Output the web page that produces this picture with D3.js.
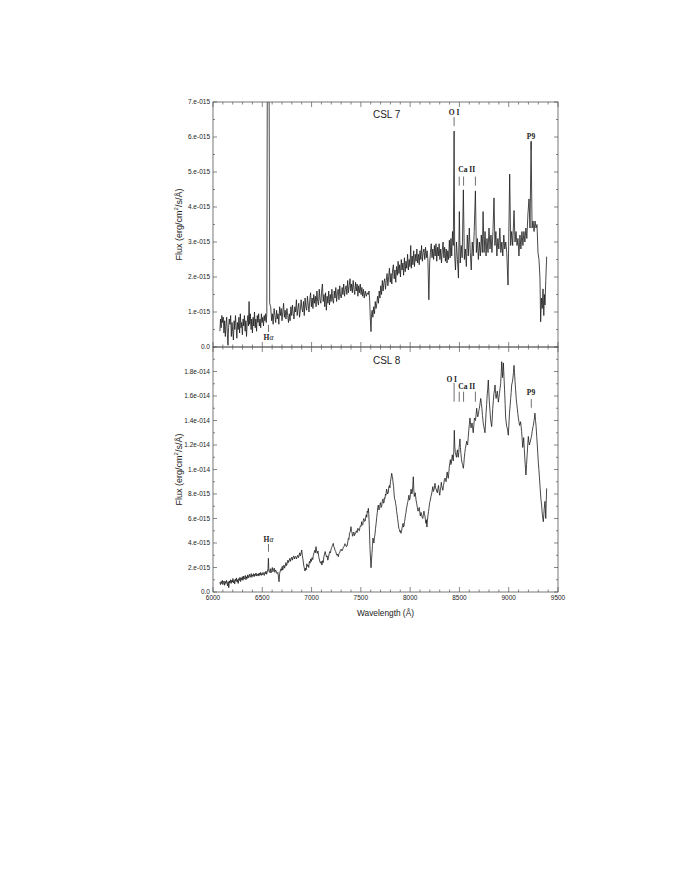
<!DOCTYPE html>
<html>
<head>
<meta charset="utf-8">
<script src="https://cdn.jsdelivr.net/npm/d3@7"></script>
<style>
body { margin: 0; background: #fff; }
text { font-family: "Liberation Sans", Arial, sans-serif; fill: #222; }
.lbl { font-family: "Liberation Serif", serif; font-weight: bold; fill: #222; }
</style>
</head>
<body>
<svg id="chart" width="681" height="881"></svg>
<script>
// spectra: [wavelength (A), flux in units of 1e-15 erg/cm2/s/A]
const csl7 = [
[6070,0.45],[6076,0.8],[6083,0.55],[6090,0.9],[6097,0.7],[6104,0.85],[6111,0.4],[6118,0.75],[6125,0.3],[6132,0.65],
[6139,0.85],[6146,0.35],[6152,0.05],[6158,0.55],[6165,0.8],[6172,0.65],[6179,0.9],[6186,0.3],[6193,0.7],[6200,0.45],
[6207,0.2],[6214,0.75],[6221,0.5],[6228,0.9],[6235,0.6],[6242,0.25],[6249,0.7],[6256,0.5],[6263,0.85],[6270,0.4],
[6277,0.95],[6284,0.55],[6291,0.7],[6298,0.35],[6305,0.8],[6312,0.6],[6319,0.9],[6326,0.45],[6333,0.75],[6340,0.3],
[6347,0.7],[6354,0.9],[6360,0.6],[6366,1.3],[6372,0.65],[6379,0.95],[6386,0.5],[6393,0.8],[6400,0.4],[6407,0.85],
[6414,0.6],[6421,1.0],[6428,0.55],[6435,0.8],[6442,0.45],[6449,0.9],[6456,0.7],[6463,0.95],[6470,0.6],[6477,0.8],
[6484,0.55],[6491,0.95],[6498,0.7],[6505,0.85],[6512,0.6],[6519,0.9],[6526,0.75],[6533,0.95],[6540,0.7],[6546,0.95],
[6552,9.5],[6567,9.5],[6575,1.25],
[6585,1.15],[6595,0.75],[6602,0.95],[6610,0.65],[6620,1.1],[6628,0.9],[6636,0.7],[6645,1.05],[6652,0.8],[6660,0.95],
[6668,0.65],[6676,1.15],[6684,0.9],[6692,1.1],[6700,0.75],[6708,1.0],[6716,1.25],[6724,0.85],[6732,1.05],[6740,0.8],
[6750,1.1],[6758,0.9],[6766,0.7],[6774,0.95],[6782,0.75],[6790,1.15],[6798,0.9],[6806,1.2],[6814,0.95],[6822,0.8],
[6830,1.15],[6838,1.0],[6846,1.35],[6854,0.9],[6862,1.1],[6870,1.25],[6878,0.85],[6886,1.05],[6894,1.35],[6902,1.1],
[6910,1.0],[6918,1.3],[6926,0.9],[6934,1.4],[6942,1.15],[6950,1.05],[6958,1.45],[6966,1.2],[6974,1.0],[6982,1.35],
[6990,1.55],[6998,1.15],[7006,1.4],[7014,1.1],[7022,1.5],[7030,1.25],[7038,1.45],[7046,1.15],[7054,1.6],[7062,1.3],
[7070,1.2],[7078,1.65],[7086,1.35],[7094,1.25],[7102,1.6],[7110,1.8],[7118,1.3],[7126,1.5],[7134,1.15],[7142,1.55],
[7150,1.05],[7158,1.45],[7166,1.25],[7174,1.6],[7182,1.2],[7190,1.5],[7198,1.3],[7206,1.65],[7214,1.35],[7222,1.25],
[7230,1.6],[7238,1.4],[7246,1.7],[7254,1.3],[7262,1.55],[7270,1.65],[7278,1.35],[7286,1.75],[7294,1.45],[7302,1.4],
[7310,1.7],[7318,1.5],[7326,1.8],[7334,1.45],[7342,1.65],[7350,1.75],[7358,1.5],[7366,1.9],[7374,1.55],[7382,1.75],
[7390,1.95],[7398,1.6],[7406,1.8],[7414,1.55],[7422,1.9],[7430,1.65],[7438,1.5],[7446,1.85],[7454,1.6],[7462,1.8],
[7470,1.45],[7478,1.75],[7486,1.55],[7494,1.8],[7502,1.5],[7510,1.7],[7518,1.45],[7526,1.65],[7534,1.4],[7545,1.6],
[7555,1.45],[7565,1.55],[7575,1.5],[7583,1.6],[7590,1.3],[7596,0.8],[7603,0.44],[7609,0.95],[7615,1.05],[7622,0.85],
[7630,1.15],[7638,0.95],[7646,1.3],[7654,1.1],[7662,1.25],[7670,1.45],[7678,1.25],[7686,1.6],[7694,1.4],[7702,1.75],
[7710,1.5],[7718,1.9],[7726,1.6],[7734,1.85],[7742,1.95],[7750,1.65],[7758,1.9],[7766,2.1],[7774,1.75],[7782,2.0],
[7790,2.25],[7798,1.85],[7806,2.1],[7814,1.8],[7822,2.2],[7830,2.35],[7838,1.95],[7846,2.2],[7854,1.85],[7862,2.3],
[7870,2.05],[7878,2.45],[7886,2.1],[7894,2.35],[7902,2.0],[7910,2.5],[7918,2.2],[7926,2.4],[7934,2.05],[7942,2.55],
[7950,2.15],[7958,2.45],[7966,2.25],[7974,2.65],[7982,2.2],[7990,2.5],[7998,2.3],[8006,2.9],[8012,2.25],[8020,2.6],
[8028,2.35],[8036,2.75],[8044,2.3],[8052,2.65],[8060,2.45],[8068,2.8],[8076,2.4],[8084,2.65],[8092,2.35],[8100,2.75],
[8108,2.5],[8116,2.9],[8124,2.45],[8132,2.7],[8140,2.8],[8148,2.5],[8156,2.85],[8164,2.55],[8172,2.75],[8180,2.5],
[8190,1.35],[8198,2.4],[8206,2.7],[8214,2.95],[8222,2.55],[8230,2.8],[8238,2.5],[8246,2.9],[8254,2.6],[8262,2.95],
[8270,2.45],[8278,2.85],[8286,2.6],[8294,2.95],[8302,2.5],[8310,2.8],[8318,2.4],[8326,2.75],[8334,3.0],[8342,2.55],
[8350,2.85],[8358,2.45],[8366,2.8],[8374,2.4],[8382,2.75],[8390,2.5],[8398,3.05],[8406,2.55],[8414,3.1],[8422,2.6],
[8430,3.3],[8438,2.9],[8446,6.17],[8452,2.6],[8460,2.2],
[8470,3.0],[8480,2.5],[8490,1.97],[8499,3.87],[8508,2.4],[8518,2.9],[8528,2.55],[8540,4.49],[8550,2.5],[8560,2.8],
[8570,2.3],[8580,3.2],[8590,2.6],[8600,3.4],[8610,2.7],[8620,2.2],[8630,3.0],[8640,2.6],[8650,3.3],[8662,4.46],
[8672,2.7],[8682,3.1],[8692,2.5],[8702,3.0],[8712,2.6],[8722,3.2],[8732,2.7],[8740,3.87],[8750,2.7],[8760,3.3],
[8770,2.6],[8780,3.1],[8790,2.7],[8800,3.4],[8810,2.8],[8820,3.2],[8830,2.7],[8840,3.3],[8851,4.26],[8860,2.9],
[8870,3.3],[8880,2.6],[8890,3.1],[8900,2.8],[8910,3.4],[8920,2.7],[8930,3.0],[8940,2.6],[8950,3.2],[8960,2.8],
[8970,3.0],[8980,2.7],[8993,1.77],[9000,3.0],[9010,4.94],[9020,2.9],[9030,3.3],[9040,2.9],[9054,3.9],[9064,3.0],
[9074,3.3],[9084,2.9],[9094,3.1],[9104,2.6],[9114,3.2],[9124,2.8],[9134,3.3],[9144,2.9],[9154,3.3],[9164,3.0],
[9174,3.4],[9184,3.1],[9195,3.8],[9206,4.23],[9216,3.4],[9227,5.87],[9237,3.4],[9247,3.6],[9257,3.3],[9267,3.6],
[9277,3.4],[9287,3.5],[9297,2.7],[9307,2.5],[9317,1.97],[9324,0.72],[9332,1.4],[9340,1.1],[9348,1.66],[9356,0.9],
[9362,1.5],[9368,1.2],[9376,1.9],[9385,2.58]
];

const csl8 = [
[6070,0.8],[6076,0.6],[6082,0.85],[6088,0.7],[6094,0.95],[6100,0.6],[6106,0.8],[6112,0.9],[6118,0.55],[6124,0.85],
[6130,0.7],[6136,0.95],[6142,0.75],[6148,0.5],[6154,0.85],[6160,0.35],[6166,0.9],[6172,0.75],[6178,1.0],[6184,0.7],
[6190,0.95],[6196,0.8],[6202,1.1],[6208,0.75],[6214,0.95],[6220,0.65],[6226,1.05],[6232,0.9],[6238,1.15],[6244,0.8],
[6250,1.0],[6256,0.7],[6262,1.1],[6268,0.95],[6274,1.2],[6280,0.85],[6286,1.15],[6292,1.0],[6298,1.25],[6304,0.95],
[6310,1.3],[6316,1.05],[6322,1.2],[6328,1.35],[6334,1.0],[6340,1.25],[6346,1.1],[6352,1.4],[6358,1.15],[6364,1.3],
[6370,1.45],[6376,1.2],[6382,1.35],[6388,1.5],[6394,1.2],[6400,1.4],[6406,1.3],[6412,1.5],[6418,1.25],[6424,1.45],
[6430,1.35],[6436,1.55],[6442,1.3],[6448,1.45],[6454,1.35],[6460,1.5],[6466,1.3],[6472,1.55],[6478,1.4],[6484,1.6],
[6490,1.35],[6496,1.5],[6502,1.4],[6508,1.6],[6514,1.45],[6520,1.35],[6526,1.6],[6532,1.5],[6538,1.7],[6544,1.45],
[6552,1.7],[6558,1.9],[6562,2.75],[6567,1.7],
[6574,1.6],[6582,1.9],[6588,1.55],[6594,1.75],[6602,2.0],[6608,1.65],[6614,1.85],[6622,1.95],[6628,1.6],[6634,1.8],
[6642,1.7],[6650,1.5],[6658,1.6],[6663,1.3],[6670,0.84],[6676,1.5],[6682,1.7],[6690,1.9],[6696,1.75],[6702,2.1],
[6708,1.8],[6714,2.0],[6720,2.2],[6726,1.95],[6732,2.1],[6740,2.4],[6746,2.15],[6752,2.3],[6760,2.6],[6766,2.4],
[6772,2.55],[6780,2.75],[6786,2.5],[6792,2.7],[6800,2.85],[6806,2.6],[6812,2.8],[6820,2.95],[6826,2.7],[6832,2.85],
[6840,2.9],[6846,2.7],[6852,2.85],[6860,3.0],[6866,2.8],[6872,2.95],[6880,3.2],[6886,2.95],[6892,3.1],[6900,3.43],
[6906,3.0],[6912,2.7],[6922,2.1],[6933,1.71],[6940,1.95],[6945,1.8],[6952,2.3],[6958,2.1],[6965,2.2],[6971,2.0],
[6978,2.5],[6985,2.35],[6992,2.7],[6998,2.5],[7005,2.8],[7012,2.65],[7018,3.0],[7025,3.2],[7032,3.4],[7038,3.2],
[7045,3.7],[7052,3.3],[7058,3.15],[7065,3.35],[7072,2.9],[7078,2.7],[7085,2.45],[7092,2.35],[7098,2.5],[7105,2.2],
[7112,2.55],[7118,2.4],[7125,2.9],[7132,3.1],[7138,3.3],[7145,3.05],[7152,2.85],[7158,2.95],[7165,2.6],[7172,2.85],
[7178,3.1],[7185,3.3],[7192,3.2],[7198,3.5],[7205,3.65],[7212,3.8],[7220,3.97],[7226,3.7],[7232,3.6],[7238,3.4],
[7245,3.3],[7252,3.1],[7258,3.0],[7265,3.1],[7271,2.88],[7278,3.15],[7285,3.2],[7292,3.4],[7300,3.5],[7308,3.35],
[7315,3.45],[7322,3.65],[7330,3.7],[7338,3.95],[7345,3.9],[7352,3.7],[7360,3.75],[7366,4.0],[7373,4.38],[7379,4.3],
[7385,4.8],[7392,4.9],[7400,5.33],[7405,4.95],[7410,4.9],[7415,4.55],[7420,4.6],[7425,4.85],[7430,4.9],[7435,4.6],
[7440,4.7],[7448,4.85],[7455,5.0],[7462,4.85],[7470,5.2],[7477,5.05],[7485,5.0],[7490,5.25],[7495,5.4],[7502,5.35],
[7508,5.74],[7514,5.45],[7520,5.5],[7525,5.85],[7530,6.0],[7538,5.75],[7545,5.8],[7550,6.15],[7555,6.3],[7560,6.1],
[7565,6.6],[7570,6.5],[7576,6.83],[7580,6.4],[7585,5.5],[7593,3.5],[7603,1.98],[7608,2.6],[7613,3.2],[7618,3.8],
[7623,4.4],[7628,4.1],[7633,4.0],[7638,4.5],[7643,4.67],[7649,5.2],[7655,5.6],[7661,6.1],[7667,6.5],[7672,6.9],
[7677,7.1],[7683,6.7],[7690,6.8],[7695,7.2],[7700,7.3],[7706,6.9],[7712,7.0],[7718,7.45],[7725,7.6],[7730,7.25],
[7735,7.3],[7740,7.7],[7745,7.65],[7750,8.0],[7755,7.9],[7760,8.4],[7765,8.3],[7771,8.0],[7778,8.1],[7784,8.6],
[7790,8.7],[7795,8.5],[7800,9.0],[7806,9.3],[7813,9.69],[7818,9.45],[7822,9.3],[7827,8.9],[7832,8.6],[7837,8.0],
[7842,7.6],[7848,7.5],[7853,7.2],[7858,7.0],[7863,6.56],[7868,6.3],[7873,6.0],[7879,5.6],[7885,5.2],[7891,5.1],
[7897,4.9],[7902,5.0],[7907,4.79],[7912,4.95],[7918,5.2],[7923,5.45],[7928,5.6],[7933,5.3],[7938,5.4],[7943,5.75],
[7948,6.0],[7953,6.3],[7958,6.5],[7963,6.85],[7968,7.0],[7973,7.3],[7978,7.4],[7983,7.7],[7988,7.9],[7993,7.5],
[7998,7.6],[8004,8.1],[8010,8.4],[8016,8.0],[8022,8.1],[8027,8.7],[8032,9.41],[8037,8.4],[8042,7.8],[8047,7.95],
[8052,8.1],[8060,7.5],[8067,7.2],[8073,6.9],[8080,6.6],[8086,6.75],[8092,6.9],[8098,6.5],[8104,6.2],[8110,6.5],
[8117,6.29],[8122,6.1],[8128,6.0],[8134,6.3],[8140,6.6],[8145,6.4],[8150,6.2],[8155,5.9],[8160,5.6],[8165,5.9],
[8170,5.3],[8175,5.8],[8180,6.2],[8186,6.55],[8192,6.9],[8198,7.3],[8205,7.5],[8211,7.8],[8218,8.0],[8224,8.3],
[8230,8.6],[8235,8.2],[8240,8.3],[8246,8.5],[8252,8.87],[8258,8.5],[8264,8.4],[8270,8.2],[8276,8.1],[8282,8.45],
[8288,8.7],[8294,8.2],[8300,7.9],[8306,8.3],[8312,8.6],[8316,8.95],[8320,8.7],[8326,8.5],[8332,8.3],[8338,8.7],
[8343,8.9],[8348,9.2],[8354,9.3],[8360,9.1],[8365,9.0],[8370,9.5],[8376,9.8],[8381,9.45],[8387,9.28],[8392,9.7],
[8397,10.2],[8402,10.5],[8408,10.8],[8413,10.4],[8418,10.5],[8423,10.9],[8428,11.2],[8433,10.8],[8438,10.7],[8443,11.5],
[8448,13.2],[8453,11.9],[8458,11.4],[8464,11.2],[8470,11.0],[8475,11.4],[8480,11.6],[8484,11.2],[8488,11.0],[8493,11.4],
[8497,11.8],[8501,12.1],[8505,12.5],[8510,11.8],[8515,11.3],[8520,10.9],[8525,10.6],[8532,10.4],[8540,10.1],[8545,10.5],
[8550,11.0],[8555,11.4],[8560,11.7],[8567,12.0],[8573,12.3],[8578,12.1],[8583,12.0],[8589,12.6],[8595,13.2],[8601,13.7],
[8607,14.2],[8612,13.8],[8618,13.4],[8623,13.6],[8628,13.8],[8634,13.4],[8640,13.0],[8646,13.6],[8652,14.2],[8658,14.1],
[8663,14.0],[8669,14.5],[8675,15.0],[8680,14.6],[8686,14.3],[8692,14.5],[8697,14.8],[8702,15.0],[8706,15.2],[8711,15.5],
[8716,15.8],[8722,15.4],[8728,15.0],[8734,14.4],[8740,13.9],[8745,13.6],[8750,13.4],[8755,13.2],[8759,13.0],[8765,13.8],
[8770,14.6],[8776,15.3],[8781,16.0],[8787,16.6],[8793,17.3],[8798,16.4],[8803,15.6],[8809,14.9],[8815,14.2],[8821,13.8],
[8827,13.5],[8833,14.2],[8838,15.0],[8844,15.6],[8850,16.2],[8856,16.5],[8861,16.9],[8867,16.2],[8872,15.8],[8878,16.1],
[8884,16.4],[8890,15.9],[8895,15.5],[8901,15.9],[8906,16.2],[8912,16.6],[8918,17.0],[8924,17.9],[8929,18.8],[8934,18.0],
[8938,17.5],[8942,18.1],[8946,18.7],[8952,17.6],[8958,16.5],[8964,15.3],[8969,14.2],[8975,13.8],[8980,13.5],[8984,13.4],
[8988,13.3],[8992,13.0],[8996,12.8],[9002,13.7],[9008,14.6],[9014,15.2],[9020,15.8],[9025,16.3],[9030,16.9],[9036,17.1],
[9042,17.4],[9048,17.9],[9054,18.5],[9059,17.9],[9064,17.2],[9070,16.5],[9076,15.8],[9081,15.4],[9087,15.0],[9092,14.6],
[9098,14.2],[9104,13.9],[9110,13.6],[9115,13.7],[9120,13.9],[9126,13.5],[9131,13.1],[9137,12.4],[9142,11.8],[9147,12.2],
[9152,12.6],[9158,11.7],[9164,10.8],[9170,10.1],[9175,9.55],[9181,10.4],[9187,11.2],[9193,12.0],[9199,12.7],[9204,12.3],
[9210,12.0],[9216,12.2],[9222,12.4],[9228,12.6],[9233,12.8],[9238,13.1],[9244,13.4],[9250,13.6],[9255,13.9],[9261,14.2],
[9266,14.6],[9272,14.0],[9278,13.5],[9284,12.7],[9290,12.0],[9295,11.3],[9300,10.6],[9306,10.0],[9312,9.3],[9318,8.6],
[9323,8.0],[9328,7.5],[9334,7.1],[9338,6.6],[9342,6.3],[9346,6.0],[9351,5.74],[9356,6.3],[9360,6.8],[9364,7.1],
[9368,7.4],[9372,6.7],[9376,6.0],[9380,7.2],[9385,8.46]
];

const UNIT = 1e-15;

const xTicks = [6000, 6500, 7000, 7500, 8000, 8500, 9000, 9500];
const xTickLabels = ["6000", "6500", "7000", "7500", "8000", "8500", "9000", "9500"];

const topYTicks = [0, 1, 2, 3, 4, 5, 6, 7];
const topYLabels = ["0.0", "1.e-015", "2.e-015", "3.e-015", "4.e-015", "5.e-015", "6.e-015", "7.e-015"];
const botYTicks = [0, 2, 4, 6, 8, 10, 12, 14, 16, 18];
const botYLabels = ["0.0", "2.e-015", "4.e-015", "6.e-015", "8.e-015", "1.e-014", "1.2e-014", "1.4e-014", "1.6e-014", "1.8e-014"];

// line identifications (wavelengths in A)
const HALPHA = 6563;
const OI = 8446;
const CAII = [8498, 8542, 8662];
const P9 = 9229;

const svg = d3.select("#chart");
const left = 213, right = 558;

const x = d3.scaleLinear().domain([6000, 9500]).range([left, right]);

//panels
const panels = [
  {name: "CSL 7", data: csl7, ymax: 7, minorStep: 0.5, top: 102, bottom: 347,
   ticks: topYTicks, labels: topYLabels, showX: false,
   ha: {tick: [0.63, 0.43], text: 0.21},
   oi: {tick: [6.57, 6.31], text: 6.64, tx: OI},
   ca: {tick: [4.87, 4.61], text: 5.01},
   p9: {tick: [5.89, 5.63], text: 5.94},
   title: 6.54},
  {name: "CSL 8", data: csl8, ymax: 20, minorStep: 1, top: 347, bottom: 592,
   ticks: botYTicks, labels: botYLabels, showX: true,
   ha: {tick: [3.92, 3.29], text: 4.1},
   oi: {tick: [17.06, 15.53], text: 17.16, tx: 8422},
   ca: {tick: [16.35, 15.53], text: 16.56},
   p9: {tick: [15.76, 15.04], text: 16.07},
   title: 18.64}
];

const xMinor = d3.range(6000, 9501, 100);

panels.forEach((p, i) => {
  const y = d3.scaleLinear().domain([0, p.ymax * UNIT]).range([p.bottom, p.top]);
  const g = svg.append("g");

  g.append("clipPath").attr("id", "clip" + i)
    .append("rect").attr("x", left).attr("y", p.top).attr("width", right - left).attr("height", p.bottom - p.top);

  // spectrum
  const line = d3.line().x(d => x(d[0])).y(d => y(d[1] * UNIT));
  g.append("path")
    .datum(p.data)
    .attr("clip-path", "url(#clip" + i + ")")
    .attr("fill", "none")
    .attr("stroke", "#1a1a1a")
    .attr("stroke-width", 0.8)
    .attr("stroke-linejoin", "round")
    .attr("d", line);

  // ticks (inward, all four sides)
  const yMinor = d3.range(0, p.ymax + 1e-9, p.minorStep).map(v => v * UNIT);
  const tickG = g.append("g").attr("stroke", "#555").attr("stroke-width", 0.7);
  xMinor.forEach(v => {
    const len = v % 500 === 0 ? 5 : 2.5;
    tickG.append("line").attr("x1", x(v)).attr("x2", x(v)).attr("y1", p.bottom).attr("y2", p.bottom - len);
    tickG.append("line").attr("x1", x(v)).attr("x2", x(v)).attr("y1", p.top).attr("y2", p.top + len);
  });
  yMinor.forEach(v => {
    const major = p.ticks.some(t => Math.abs(t * UNIT - v) < 1e-20);
    const len = major ? 4 : 2;
    tickG.append("line").attr("x1", left).attr("x2", left + len).attr("y1", y(v)).attr("y2", y(v));
    tickG.append("line").attr("x1", right).attr("x2", right - len).attr("y1", y(v)).attr("y2", y(v));
  });

  // frame
  g.append("rect").attr("x", left).attr("y", p.top).attr("width", right - left).attr("height", p.bottom - p.top)
    .attr("fill", "none").attr("stroke", "#555").attr("stroke-width", 0.8);

  // y tick labels
  g.selectAll(".ylab").data(p.ticks).enter().append("text")
    .attr("x", left - 3).attr("y", d => y(d * UNIT) + 2.3)
    .attr("text-anchor", "end").style("font-size", "6.5px")
    .text((d, k) => p.labels[k]);

  // y axis title
  const yt = g.append("text")
    .attr("transform", "translate(181.5," + ((p.top + p.bottom) / 2) + ") rotate(-90)")
    .attr("text-anchor", "middle").style("font-size", "9px");
  yt.append("tspan").text("Flux (erg/cm");
  yt.append("tspan").attr("dy", -3.5).style("font-size", "6px").text("2");
  yt.append("tspan").attr("dy", 3.5).text("/s/Å)");

  if (p.showX) {
    g.selectAll(".xlab").data(xTicks).enter().append("text")
      .attr("x", d => x(d)).attr("y", p.bottom + 8)
      .attr("text-anchor", "middle").style("font-size", "6.5px")
      .text((d, k) => xTickLabels[k]);
    g.append("text").attr("x", (left + right) / 2).attr("y", p.bottom + 24)
      .attr("text-anchor", "middle").style("font-size", "8.3px").text("Wavelength (Å)");
  }

  // panel title
  g.append("text").attr("x", x(7762)).attr("y", y(p.title * UNIT))
    .attr("text-anchor", "middle").style("font-size", "10px").text(p.name);

  // line ids
  const mark = (wl, t) => g.append("line")
    .attr("x1", x(wl)).attr("x2", x(wl))
    .attr("y1", y(t[0] * UNIT)).attr("y2", y(t[1] * UNIT))
    .attr("stroke", "#333").attr("stroke-width", 0.7);

  mark(HALPHA, p.ha.tick);
  const ht = g.append("text").attr("class", "lbl").attr("x", x(HALPHA)).attr("y", y(p.ha.text * UNIT))
    .attr("text-anchor", "middle").style("font-size", "7.5px");
  ht.append("tspan").text("H");
  ht.append("tspan").style("font-style", "italic").style("font-weight", "normal").text("α");

  mark(OI, p.oi.tick);
  g.append("text").attr("class", "lbl").attr("x", x(p.oi.tx)).attr("y", y(p.oi.text * UNIT))
    .attr("text-anchor", "middle").style("font-size", "7.5px").text("O I");

  CAII.forEach(wl => mark(wl, p.ca.tick));
  g.append("text").attr("class", "lbl").attr("x", x(8574)).attr("y", y(p.ca.text * UNIT))
    .attr("text-anchor", "middle").style("font-size", "7.5px").text("Ca II");

  mark(P9, p.p9.tick);
  g.append("text").attr("class", "lbl").attr("x", x(9226)).attr("y", y(p.p9.text * UNIT))
    .attr("text-anchor", "middle").style("font-size", "7.5px").text("P9");
});
</script>
</body>
</html>
